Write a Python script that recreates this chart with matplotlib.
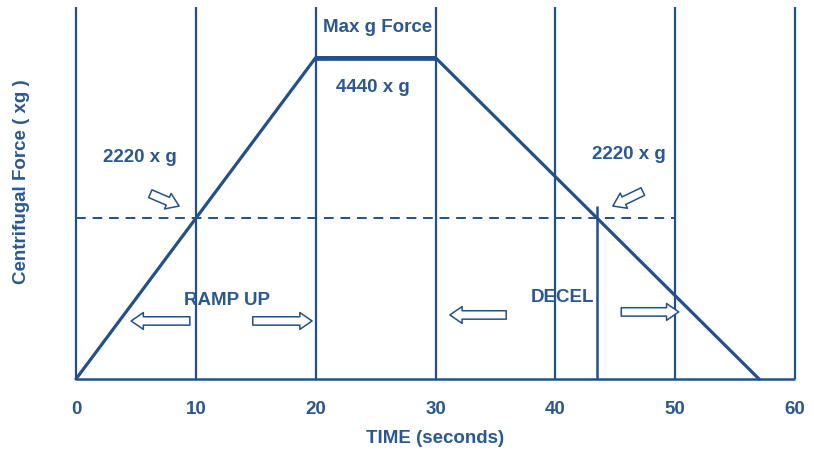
import matplotlib
matplotlib.use("Agg")
import matplotlib.pyplot as plt

plt.rcParams.update({
    "font.family": ["Liberation Sans", "DejaVu Sans"],
    "font.size": 13,
})

# profile of the spin cycle
time_s = [0, 20, 30, 57]
force_g = [0, 4440, 4440, 0]
grid_x = [0, 10, 20, 30, 40, 50, 60]
tick_labels = ["0", "10", "20", "30", "40", "50", "60"]
half_force = 2220
max_force = 4440
decel_half_t = 43.5

blue = "#22508a"
txt = "#2a5890"

fig = plt.figure(figsize=(8.14, 4.52), dpi=100)
ax = fig.add_axes([76 / 814, 72 / 452, 719 / 814, 372 / 452])
ax.set_xlim(0, 60)
ax.set_ylim(0, 5140)
for s in ax.spines.values():
    s.set_visible(False)

# grid verticals and base line
ax.vlines(grid_x, 0, 5140, color=blue, lw=1.6, clip_on=False)
ax.hlines(0, 0, 60, color=blue, lw=1.8, clip_on=False)
ax.vlines(decel_half_t, 0, half_force + 170, color=blue, lw=1.8, clip_on=False)

# half force dashed line
ax.hlines(half_force, 0, 50, color=blue, lw=1.4, linestyles=(0, (5, 3.5)))

# ramp / hold / decel profile
ax.plot(time_s, force_g, color=blue, lw=2.3, solid_capstyle="round", clip_on=False)
ax.plot(time_s[1:3], force_g[1:3], color=blue, lw=3.4, solid_capstyle="butt")

# labels
kw = dict(color=txt, ha="center", va="center", fontsize=13.5, fontweight="bold")
ax.text(5.3, 3070, "2220 x g", **kw)
ax.text(46.1, 3110, "2220 x g", **kw)
ax.text(25.2, 4870, "Max g Force", **kw)
ax.text(24.75, 4040, "4440 x g", **kw)
ax.text(12.6, 1093, "RAMP UP", **kw)
ax.text(40.6, 1134, "DECEL", **kw)

# hollow arrows (tail -> tip)
arrows = [
    ((6.2, 2560), (8.6, 2390)),
    ((47.3, 2590), (44.8, 2390)),
    ((9.5, 802), (4.6, 802)),
    ((14.75, 802), (19.7, 802)),
    ((35.9, 885), (31.2, 885)),
    ((45.5, 927), (50.3, 927)),
]
for tail, tip in arrows:
    ax.annotate("", xy=tip, xytext=tail,
                arrowprops=dict(arrowstyle="simple,head_length=0.8,head_width=1.1,tail_width=0.55",
                                fc="white", ec=blue, lw=1.1, mutation_scale=11,
                                shrinkA=0, shrinkB=0))

ax.set_xticks(grid_x)
ax.set_xticklabels(tick_labels, color=txt, fontsize=13.5, fontweight="bold")
ax.set_yticks([])
ax.tick_params(axis="x", length=0, pad=15)

ax.set_xlabel("TIME (seconds)", color=txt, fontsize=13.5, fontweight="bold", labelpad=9)
fig.text(22 / 814, 1 - 182 / 452, "Centrifugal Force ( xg )", rotation=90,
         color=txt, fontsize=13.5, fontweight="bold", ha="center", va="center")

fig.savefig("out.png", dpi=100)
